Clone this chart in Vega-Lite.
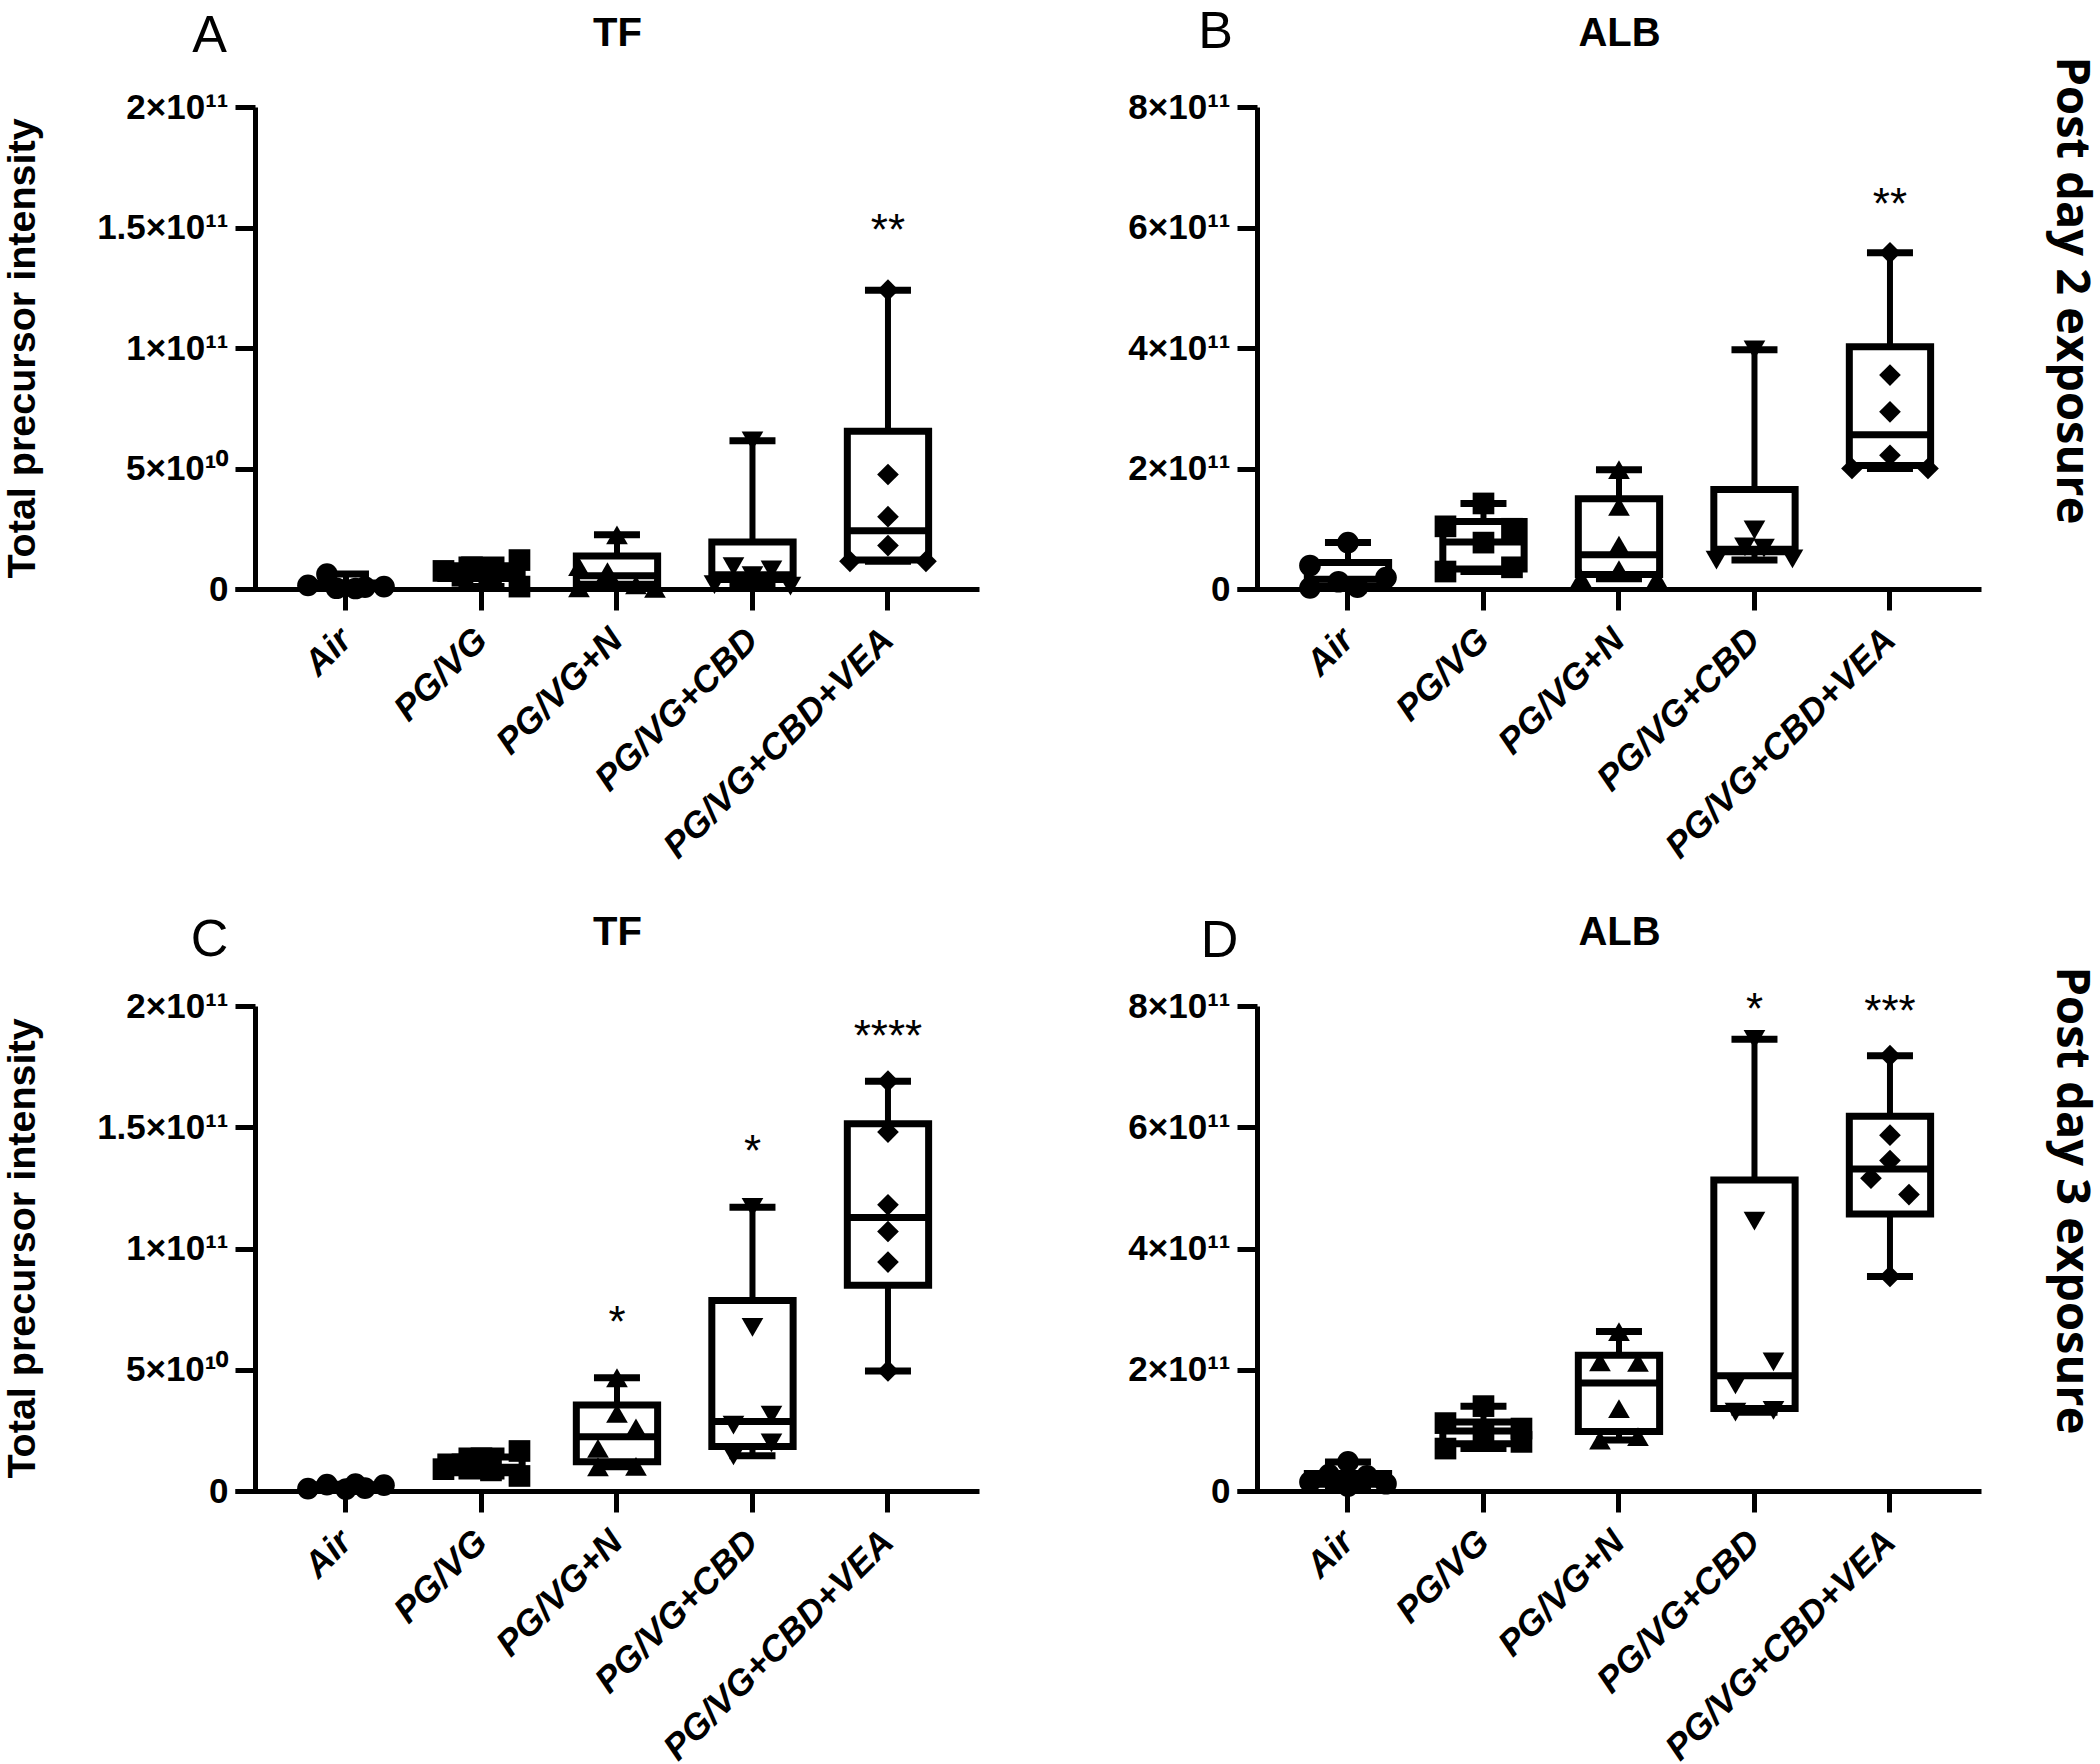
{
"$schema":"https://vega.github.io/schema/vega-lite/v6.json",
"padding":{"left":1,"top":5,"right":0,"bottom":0},
"background":"white",
"config":{"view":{"stroke":null},"font":"Liberation Sans","axis":{"grid":false,"domainColor":"black","tickColor":"black","labelColor":"black","titleColor":"black","labelFont":"Liberation Sans","titleFont":"Liberation Sans"}},
"datasets":{
"boxes":[
{"panel":"A","group":"Air","min":2e8,"q1":3e8,"median":9e8,"q3":2.5e9,"max":6.2e9},
{"panel":"A","group":"PG/VG","min":1e9,"q1":4.4e9,"median":7e9,"q3":9.6e9,"max":1.2e10},
{"panel":"A","group":"PG/VG+N","min":3e8,"q1":2e9,"median":5.5e9,"q3":1.37e10,"max":2.25e10},
{"panel":"A","group":"PG/VG+CBD","min":1.2e9,"q1":3.9e9,"median":5.9e9,"q3":1.95e10,"max":6.15e10},
{"panel":"A","group":"PG/VG+CBD+VEA","min":1.15e10,"q1":1.2e10,"median":2.42e10,"q3":6.55e10,"max":1.24e11},
{"panel":"B","group":"Air","min":2e9,"q1":5e9,"median":1.6e10,"q3":4.4e10,"max":7.7e10},
{"panel":"B","group":"PG/VG","min":2.9e10,"q1":3.3e10,"median":7.8e10,"q3":1.12e11,"max":1.42e11},
{"panel":"B","group":"PG/VG+N","min":1.7e10,"q1":2.4e10,"median":5.7e10,"q3":1.5e11,"max":1.98e11},
{"panel":"B","group":"PG/VG+CBD","min":4.8e10,"q1":6.2e10,"median":6.6e10,"q3":1.65e11,"max":3.97e11},
{"panel":"B","group":"PG/VG+CBD+VEA","min":2e11,"q1":2.05e11,"median":2.56e11,"q3":4.02e11,"max":5.58e11},
{"panel":"C","group":"Air","min":8e8,"q1":1e9,"median":1.8e9,"q3":2.6e9,"max":2.8e9},
{"panel":"C","group":"PG/VG","min":6.2e9,"q1":7.5e9,"median":9.8e9,"q3":1.4e10,"max":1.65e10},
{"panel":"C","group":"PG/VG+N","min":1e10,"q1":1.21e10,"median":2.24e10,"q3":3.55e10,"max":4.67e10},
{"panel":"C","group":"PG/VG+CBD","min":1.45e10,"q1":1.83e10,"median":2.87e10,"q3":7.86e10,"max":1.17e11},
{"panel":"C","group":"PG/VG+CBD+VEA","min":4.95e10,"q1":8.48e10,"median":1.128e11,"q3":1.514e11,"max":1.69e11},
{"panel":"D","group":"Air","min":8e9,"q1":1.1e10,"median":2e10,"q3":2.9e10,"max":4.8e10},
{"panel":"D","group":"PG/VG","min":7e10,"q1":7.8e10,"median":9.9e10,"q3":1.14e11,"max":1.4e11},
{"panel":"D","group":"PG/VG+N","min":8.4e10,"q1":9.8e10,"median":1.78e11,"q3":2.24e11,"max":2.63e11},
{"panel":"D","group":"PG/VG+CBD","min":1.3e11,"q1":1.36e11,"median":1.9e11,"q3":5.13e11,"max":7.45e11},
{"panel":"D","group":"PG/VG+CBD+VEA","min":3.54e11,"q1":4.57e11,"median":5.31e11,"q3":6.18e11,"max":7.18e11}
],
"points":[
{"panel":"A","group":"Air","value":6.2e9,"slot":-2},
{"panel":"A","group":"Air","value":1.5e9,"slot":-4},
{"panel":"A","group":"Air","value":3e8,"slot":-1},
{"panel":"A","group":"Air","value":2e8,"slot":1},
{"panel":"A","group":"Air","value":8e8,"slot":2},
{"panel":"A","group":"Air","value":1e9,"slot":4},
{"panel":"A","group":"PG/VG","value":1.2e10,"slot":4},
{"panel":"A","group":"PG/VG","value":9e9,"slot":-1},
{"panel":"A","group":"PG/VG","value":7.5e9,"slot":-4},
{"panel":"A","group":"PG/VG","value":6.5e9,"slot":1},
{"panel":"A","group":"PG/VG","value":5.5e9,"slot":-2},
{"panel":"A","group":"PG/VG","value":1e9,"slot":4},
{"panel":"A","group":"PG/VG+N","value":2.25e10,"slot":0},
{"panel":"A","group":"PG/VG+N","value":9.3e9,"slot":-4},
{"panel":"A","group":"PG/VG+N","value":7.2e9,"slot":-1},
{"panel":"A","group":"PG/VG+N","value":1.7e9,"slot":2},
{"panel":"A","group":"PG/VG+N","value":5e8,"slot":-4},
{"panel":"A","group":"PG/VG+N","value":3e8,"slot":4},
{"panel":"A","group":"PG/VG+CBD","value":6.15e10,"slot":0},
{"panel":"A","group":"PG/VG+CBD","value":9.3e9,"slot":-2},
{"panel":"A","group":"PG/VG+CBD","value":7.9e9,"slot":2},
{"panel":"A","group":"PG/VG+CBD","value":5.5e9,"slot":0},
{"panel":"A","group":"PG/VG+CBD","value":1.8e9,"slot":-4},
{"panel":"A","group":"PG/VG+CBD","value":1.2e9,"slot":4},
{"panel":"A","group":"PG/VG+CBD+VEA","value":1.24e11,"slot":0},
{"panel":"A","group":"PG/VG+CBD+VEA","value":4.75e10,"slot":0},
{"panel":"A","group":"PG/VG+CBD+VEA","value":3e10,"slot":0},
{"panel":"A","group":"PG/VG+CBD+VEA","value":1.8e10,"slot":0},
{"panel":"A","group":"PG/VG+CBD+VEA","value":1.15e10,"slot":-4},
{"panel":"A","group":"PG/VG+CBD+VEA","value":1.15e10,"slot":4},
{"panel":"B","group":"Air","value":7.7e10,"slot":0},
{"panel":"B","group":"Air","value":3.9e10,"slot":-4},
{"panel":"B","group":"Air","value":1.9e10,"slot":4},
{"panel":"B","group":"Air","value":1.2e10,"slot":-1},
{"panel":"B","group":"Air","value":3e9,"slot":1},
{"panel":"B","group":"Air","value":2e9,"slot":-4},
{"panel":"B","group":"PG/VG","value":1.42e11,"slot":0},
{"panel":"B","group":"PG/VG","value":1.04e11,"slot":-4},
{"panel":"B","group":"PG/VG","value":1e11,"slot":3},
{"panel":"B","group":"PG/VG","value":7.7e10,"slot":0},
{"panel":"B","group":"PG/VG","value":3.6e10,"slot":3},
{"panel":"B","group":"PG/VG","value":2.9e10,"slot":-4},
{"panel":"B","group":"PG/VG+N","value":1.98e11,"slot":0},
{"panel":"B","group":"PG/VG+N","value":1.37e11,"slot":0},
{"panel":"B","group":"PG/VG+N","value":7.3e10,"slot":0},
{"panel":"B","group":"PG/VG+N","value":3.2e10,"slot":0},
{"panel":"B","group":"PG/VG+N","value":1.8e10,"slot":-4},
{"panel":"B","group":"PG/VG+N","value":1.7e10,"slot":4},
{"panel":"B","group":"PG/VG+CBD","value":3.97e11,"slot":0},
{"panel":"B","group":"PG/VG+CBD","value":9.8e10,"slot":0},
{"panel":"B","group":"PG/VG+CBD","value":7e10,"slot":-1},
{"panel":"B","group":"PG/VG+CBD","value":6.8e10,"slot":1},
{"panel":"B","group":"PG/VG+CBD","value":5e10,"slot":4},
{"panel":"B","group":"PG/VG+CBD","value":4.8e10,"slot":-4},
{"panel":"B","group":"PG/VG+CBD+VEA","value":5.58e11,"slot":0},
{"panel":"B","group":"PG/VG+CBD+VEA","value":3.55e11,"slot":0},
{"panel":"B","group":"PG/VG+CBD+VEA","value":2.94e11,"slot":0},
{"panel":"B","group":"PG/VG+CBD+VEA","value":2.22e11,"slot":0},
{"panel":"B","group":"PG/VG+CBD+VEA","value":2e11,"slot":-4},
{"panel":"B","group":"PG/VG+CBD+VEA","value":2e11,"slot":4},
{"panel":"C","group":"Air","value":1e9,"slot":-4},
{"panel":"C","group":"Air","value":2.6e9,"slot":-2},
{"panel":"C","group":"Air","value":8e8,"slot":0},
{"panel":"C","group":"Air","value":2.8e9,"slot":1},
{"panel":"C","group":"Air","value":1.2e9,"slot":2},
{"panel":"C","group":"Air","value":2.4e9,"slot":4},
{"panel":"C","group":"PG/VG","value":1.65e10,"slot":4},
{"panel":"C","group":"PG/VG","value":1.35e10,"slot":0},
{"panel":"C","group":"PG/VG","value":1.1e10,"slot":-2},
{"panel":"C","group":"PG/VG","value":9e9,"slot":-4},
{"panel":"C","group":"PG/VG","value":8.5e9,"slot":1},
{"panel":"C","group":"PG/VG","value":6.2e9,"slot":4},
{"panel":"C","group":"PG/VG+N","value":4.67e10,"slot":0},
{"panel":"C","group":"PG/VG+N","value":3.2e10,"slot":0},
{"panel":"C","group":"PG/VG+N","value":2.6e10,"slot":2},
{"panel":"C","group":"PG/VG+N","value":1.76e10,"slot":-2},
{"panel":"C","group":"PG/VG+N","value":1e10,"slot":-2},
{"panel":"C","group":"PG/VG+N","value":1.02e10,"slot":2},
{"panel":"C","group":"PG/VG+CBD","value":1.17e11,"slot":0},
{"panel":"C","group":"PG/VG+CBD","value":6.75e10,"slot":0},
{"panel":"C","group":"PG/VG+CBD","value":3.13e10,"slot":2},
{"panel":"C","group":"PG/VG+CBD","value":2.72e10,"slot":-2},
{"panel":"C","group":"PG/VG+CBD","value":1.98e10,"slot":2},
{"panel":"C","group":"PG/VG+CBD","value":1.45e10,"slot":-2},
{"panel":"C","group":"PG/VG+CBD+VEA","value":1.69e11,"slot":0},
{"panel":"C","group":"PG/VG+CBD+VEA","value":1.48e11,"slot":0},
{"panel":"C","group":"PG/VG+CBD+VEA","value":1.18e11,"slot":0},
{"panel":"C","group":"PG/VG+CBD+VEA","value":1.07e11,"slot":0},
{"panel":"C","group":"PG/VG+CBD+VEA","value":9.44e10,"slot":0},
{"panel":"C","group":"PG/VG+CBD+VEA","value":4.95e10,"slot":0},
{"panel":"D","group":"Air","value":4.8e10,"slot":0},
{"panel":"D","group":"Air","value":2.7e10,"slot":-2},
{"panel":"D","group":"Air","value":2.5e10,"slot":2},
{"panel":"D","group":"Air","value":1.5e10,"slot":-4},
{"panel":"D","group":"Air","value":8e9,"slot":0},
{"panel":"D","group":"Air","value":1.2e10,"slot":4},
{"panel":"D","group":"PG/VG","value":1.4e11,"slot":0},
{"panel":"D","group":"PG/VG","value":1.12e11,"slot":-4},
{"panel":"D","group":"PG/VG","value":1.03e11,"slot":4},
{"panel":"D","group":"PG/VG","value":9.5e10,"slot":0},
{"panel":"D","group":"PG/VG","value":8.1e10,"slot":4},
{"panel":"D","group":"PG/VG","value":7e10,"slot":-4},
{"panel":"D","group":"PG/VG+N","value":2.63e11,"slot":0},
{"panel":"D","group":"PG/VG+N","value":2.13e11,"slot":-2},
{"panel":"D","group":"PG/VG+N","value":2.12e11,"slot":2},
{"panel":"D","group":"PG/VG+N","value":1.36e11,"slot":0},
{"panel":"D","group":"PG/VG+N","value":8.96e10,"slot":2},
{"panel":"D","group":"PG/VG+N","value":8.4e10,"slot":-2},
{"panel":"D","group":"PG/VG+CBD","value":7.45e11,"slot":0},
{"panel":"D","group":"PG/VG+CBD","value":4.45e11,"slot":0},
{"panel":"D","group":"PG/VG+CBD","value":2.13e11,"slot":2},
{"panel":"D","group":"PG/VG+CBD","value":1.75e11,"slot":-2},
{"panel":"D","group":"PG/VG+CBD","value":1.33e11,"slot":2},
{"panel":"D","group":"PG/VG+CBD","value":1.3e11,"slot":-2},
{"panel":"D","group":"PG/VG+CBD+VEA","value":7.18e11,"slot":0},
{"panel":"D","group":"PG/VG+CBD+VEA","value":5.87e11,"slot":0},
{"panel":"D","group":"PG/VG+CBD+VEA","value":5.45e11,"slot":0},
{"panel":"D","group":"PG/VG+CBD+VEA","value":5.16e11,"slot":-2},
{"panel":"D","group":"PG/VG+CBD+VEA","value":4.89e11,"slot":2},
{"panel":"D","group":"PG/VG+CBD+VEA","value":3.54e11,"slot":0}
],
"stars":[
{"panel":"A","group":"PG/VG+CBD+VEA","y":1.523e11,"label":"**"},
{"panel":"B","group":"PG/VG+CBD+VEA","y":6.52e11,"label":"**"},
{"panel":"C","group":"PG/VG+N","y":7.3e10,"label":"*"},
{"panel":"C","group":"PG/VG+CBD","y":1.437e11,"label":"*"},
{"panel":"C","group":"PG/VG+CBD+VEA","y":1.908e11,"label":"****"},
{"panel":"D","group":"PG/VG+CBD","y":8.08e11,"label":"*"},
{"panel":"D","group":"PG/VG+CBD+VEA","y":8.05e11,"label":"***"}
]
},
"columns":2,
"align":"each",
"spacing":{"row":47,"column":148},
"concat":[
{"width":744,"height":482,
"layer":[
{"data":{"name":"boxes"},"transform":[{"filter":"datum.panel==='A'"}],"mark":{"type":"rule","color":"black","strokeWidth":6},
"encoding":{"x":{"field":"group","type":"nominal","sort":["Air","PG/VG","PG/VG+N","PG/VG+CBD","PG/VG+CBD+VEA"],"scale":{"type":"band","paddingInner":0,"paddingOuter":0.2454,"align":0.65},"axis":{"orient":"bottom","title":null,"labelAngle":-45,"labelAlign":"right","labelBaseline":"middle","labelFontStyle":"italic","labelFontWeight":"bold","labelFontSize":36,"labelPadding":24,"labelLimit":0,"labelOverlap":false,"tickSize":21,"tickWidth":5,"domainWidth":5}},
"y":{"field":"min","type":"quantitative","scale":{"domain":[0,200000000000],"nice":false},"axis":{"orient":"left","offset":-20,"values":[0,50000000000,100000000000,150000000000,200000000000],"labelExpr":"datum.value === 0 ? '0' : datum.value === 50000000000 ? '5×10¹⁰' : datum.value === 100000000000 ? '1×10¹¹' : datum.value === 150000000000 ? '1.5×10¹¹' : '2×10¹¹'","labelFontSize":35,"labelFontWeight":"bold","labelPadding":7,"labelOverlap":false,"tickSize":20,"tickWidth":5,"domainWidth":5,"title":"Total precursor intensity","titleFontSize":39.5,"titleFontWeight":"bold","titleAngle":-90,"titleX":-233,"titleY":241,"titleAlign":"center","titleBaseline":"middle"}},
"y2":{"field":"max"}}},
{"data":{"name":"boxes"},"transform":[{"filter":"datum.panel==='A'"}],"mark":{"type":"bar","fill":"white","stroke":"black","strokeWidth":7,"width":{"band":0.6}},
"encoding":{"x":{"field":"group","type":"nominal","sort":["Air","PG/VG","PG/VG+N","PG/VG+CBD","PG/VG+CBD+VEA"],"scale":{"type":"band","paddingInner":0,"paddingOuter":0.2454,"align":0.65},"axis":{"orient":"top","labels":false,"ticks":false,"domain":false,"title":"TF","titleFontSize":40,"titleFontWeight":"bold","titleX":382,"titleY":-62,"titleAlign":"center","titleBaseline":"alphabetic","titleAngle":0}},
"y":{"field":"q1","type":"quantitative","axis":null},"y2":{"field":"q3"}}},
{"data":{"name":"boxes"},"transform":[{"filter":"datum.panel==='A'"}],"mark":{"type":"tick","color":"black","thickness":7,"size":82,"opacity":1},
"encoding":{"x":{"field":"group","type":"nominal","sort":["Air","PG/VG","PG/VG+N","PG/VG+CBD","PG/VG+CBD+VEA"],"axis":null},"y":{"field":"median","type":"quantitative","axis":null}}},
{"data":{"name":"boxes"},"transform":[{"filter":"datum.panel==='A'"}],"mark":{"type":"tick","color":"black","thickness":7,"size":46,"opacity":1},
"encoding":{"x":{"field":"group","type":"nominal","sort":["Air","PG/VG","PG/VG+N","PG/VG+CBD","PG/VG+CBD+VEA"],"axis":null},"y":{"field":"min","type":"quantitative","axis":null}}},
{"data":{"name":"boxes"},"transform":[{"filter":"datum.panel==='A'"}],"mark":{"type":"tick","color":"black","thickness":7,"size":46,"opacity":1},
"encoding":{"x":{"field":"group","type":"nominal","sort":["Air","PG/VG","PG/VG+N","PG/VG+CBD","PG/VG+CBD+VEA"],"axis":null},"y":{"field":"max","type":"quantitative","axis":null}}},
{"data":{"name":"points"},"transform":[{"filter":"datum.panel==='A'"}],"mark":{"type":"point","filled":true,"opacity":1,"size":470,"color":"black"},
"encoding":{"x":{"field":"group","type":"nominal","sort":["Air","PG/VG","PG/VG+N","PG/VG+CBD","PG/VG+CBD+VEA"],"axis":{"orient":"top","labels":false,"ticks":false,"domain":false,"title":"A","titleFontSize":52,"titleFontWeight":"normal","titleX":-26,"titleY":-56,"titleAlign":"center","titleBaseline":"alphabetic","titleAngle":0}},
"xOffset":{"field":"slot","type":"ordinal","scale":{"type":"point","domain":[-4,-3,-2,-1,0,1,2,3,4],"range":[29.75,105.75],"padding":0}},
"y":{"field":"value","type":"quantitative","axis":null},
"shape":{"field":"group","type":"nominal","scale":{"domain":["Air","PG/VG","PG/VG+N","PG/VG+CBD","PG/VG+CBD+VEA"],"range":["circle","square","triangle-up","triangle-down","diamond"]},"legend":null}}},
{"data":{"name":"stars"},"transform":[{"filter":"datum.panel==='A'"}],"mark":{"type":"text","fontSize":44,"baseline":"alphabetic","dy":23,"color":"black"},
"encoding":{"x":{"field":"group","type":"nominal","sort":["Air","PG/VG","PG/VG+N","PG/VG+CBD","PG/VG+CBD+VEA"],"axis":null},"y":{"field":"y","type":"quantitative","axis":null},"text":{"field":"label"}}}
],
"resolve":{"scale":{"xOffset":"independent"},"axis":{"x":"independent","y":"independent"}}},

{"width":744,"height":482,
"layer":[
{"data":{"name":"boxes"},"transform":[{"filter":"datum.panel==='B'"}],"mark":{"type":"rule","color":"black","strokeWidth":6},
"encoding":{"x":{"field":"group","type":"nominal","sort":["Air","PG/VG","PG/VG+N","PG/VG+CBD","PG/VG+CBD+VEA"],"scale":{"type":"band","paddingInner":0,"paddingOuter":0.2454,"align":0.65},"axis":{"orient":"bottom","title":null,"labelAngle":-45,"labelAlign":"right","labelBaseline":"middle","labelFontStyle":"italic","labelFontWeight":"bold","labelFontSize":36,"labelPadding":24,"labelLimit":0,"labelOverlap":false,"tickSize":21,"tickWidth":5,"domainWidth":5}},
"y":{"field":"min","type":"quantitative","scale":{"domain":[0,800000000000],"nice":false},"axis":{"orient":"left","offset":-20,"values":[0,200000000000,400000000000,600000000000,800000000000],"labelExpr":"datum.value === 0 ? '0' : datum.value === 200000000000 ? '2×10¹¹' : datum.value === 400000000000 ? '4×10¹¹' : datum.value === 600000000000 ? '6×10¹¹' : '8×10¹¹'","labelFontSize":35,"labelFontWeight":"bold","labelPadding":7,"labelOverlap":false,"tickSize":20,"tickWidth":5,"domainWidth":5,"title":null}},
"y2":{"field":"max"}}},
{"data":{"name":"boxes"},"transform":[{"filter":"datum.panel==='B'"}],"mark":{"type":"bar","fill":"white","stroke":"black","strokeWidth":7,"width":{"band":0.6}},
"encoding":{"x":{"field":"group","type":"nominal","sort":["Air","PG/VG","PG/VG+N","PG/VG+CBD","PG/VG+CBD+VEA"],"scale":{"type":"band","paddingInner":0,"paddingOuter":0.2454,"align":0.65},"axis":{"orient":"top","labels":false,"ticks":false,"domain":false,"title":"ALB","titleFontSize":40,"titleFontWeight":"bold","titleX":382,"titleY":-62,"titleAlign":"center","titleBaseline":"alphabetic","titleAngle":0}},
"y":{"field":"q1","type":"quantitative","axis":{"orient":"right","labels":false,"ticks":false,"domain":false,"title":"Post day 2 exposure","titleFont":"Open Sans","titleFontSize":47,"titleFontWeight":"bold","titleAngle":90,"titleX":89,"titleY":183,"titleAlign":"center","titleBaseline":"middle"}},"y2":{"field":"q3"}}},
{"data":{"name":"boxes"},"transform":[{"filter":"datum.panel==='B'"}],"mark":{"type":"tick","color":"black","thickness":7,"size":82,"opacity":1},
"encoding":{"x":{"field":"group","type":"nominal","sort":["Air","PG/VG","PG/VG+N","PG/VG+CBD","PG/VG+CBD+VEA"],"axis":null},"y":{"field":"median","type":"quantitative","axis":null}}},
{"data":{"name":"boxes"},"transform":[{"filter":"datum.panel==='B'"}],"mark":{"type":"tick","color":"black","thickness":7,"size":46,"opacity":1},
"encoding":{"x":{"field":"group","type":"nominal","sort":["Air","PG/VG","PG/VG+N","PG/VG+CBD","PG/VG+CBD+VEA"],"axis":null},"y":{"field":"min","type":"quantitative","axis":null}}},
{"data":{"name":"boxes"},"transform":[{"filter":"datum.panel==='B'"}],"mark":{"type":"tick","color":"black","thickness":7,"size":46,"opacity":1},
"encoding":{"x":{"field":"group","type":"nominal","sort":["Air","PG/VG","PG/VG+N","PG/VG+CBD","PG/VG+CBD+VEA"],"axis":null},"y":{"field":"max","type":"quantitative","axis":null}}},
{"data":{"name":"points"},"transform":[{"filter":"datum.panel==='B'"}],"mark":{"type":"point","filled":true,"opacity":1,"size":470,"color":"black"},
"encoding":{"x":{"field":"group","type":"nominal","sort":["Air","PG/VG","PG/VG+N","PG/VG+CBD","PG/VG+CBD+VEA"],"axis":{"orient":"top","labels":false,"ticks":false,"domain":false,"title":"B","titleFontSize":52,"titleFontWeight":"normal","titleX":-22,"titleY":-60,"titleAlign":"center","titleBaseline":"alphabetic","titleAngle":0}},
"xOffset":{"field":"slot","type":"ordinal","scale":{"type":"point","domain":[-4,-3,-2,-1,0,1,2,3,4],"range":[29.75,105.75],"padding":0}},
"y":{"field":"value","type":"quantitative","axis":null},
"shape":{"field":"group","type":"nominal","scale":{"domain":["Air","PG/VG","PG/VG+N","PG/VG+CBD","PG/VG+CBD+VEA"],"range":["circle","square","triangle-up","triangle-down","diamond"]},"legend":null}}},
{"data":{"name":"stars"},"transform":[{"filter":"datum.panel==='B'"}],"mark":{"type":"text","fontSize":44,"baseline":"alphabetic","dy":23,"color":"black"},
"encoding":{"x":{"field":"group","type":"nominal","sort":["Air","PG/VG","PG/VG+N","PG/VG+CBD","PG/VG+CBD+VEA"],"axis":null},"y":{"field":"y","type":"quantitative","axis":null},"text":{"field":"label"}}}
],
"resolve":{"scale":{"xOffset":"independent"},"axis":{"x":"independent","y":"independent"}}},

{"width":744,"height":485,
"layer":[
{"data":{"name":"boxes"},"transform":[{"filter":"datum.panel==='C'"}],"mark":{"type":"rule","color":"black","strokeWidth":6},
"encoding":{"x":{"field":"group","type":"nominal","sort":["Air","PG/VG","PG/VG+N","PG/VG+CBD","PG/VG+CBD+VEA"],"scale":{"type":"band","paddingInner":0,"paddingOuter":0.2454,"align":0.65},"axis":{"orient":"bottom","title":null,"labelAngle":-45,"labelAlign":"right","labelBaseline":"middle","labelFontStyle":"italic","labelFontWeight":"bold","labelFontSize":36,"labelPadding":24,"labelLimit":0,"labelOverlap":false,"tickSize":21,"tickWidth":5,"domainWidth":5}},
"y":{"field":"min","type":"quantitative","scale":{"domain":[0,200000000000],"nice":false},"axis":{"orient":"left","offset":-20,"values":[0,50000000000,100000000000,150000000000,200000000000],"labelExpr":"datum.value === 0 ? '0' : datum.value === 50000000000 ? '5×10¹⁰' : datum.value === 100000000000 ? '1×10¹¹' : datum.value === 150000000000 ? '1.5×10¹¹' : '2×10¹¹'","labelFontSize":35,"labelFontWeight":"bold","labelPadding":7,"labelOverlap":false,"tickSize":20,"tickWidth":5,"domainWidth":5,"title":"Total precursor intensity","titleFontSize":39.5,"titleFontWeight":"bold","titleAngle":-90,"titleX":-233,"titleY":242,"titleAlign":"center","titleBaseline":"middle"}},
"y2":{"field":"max"}}},
{"data":{"name":"boxes"},"transform":[{"filter":"datum.panel==='C'"}],"mark":{"type":"bar","fill":"white","stroke":"black","strokeWidth":7,"width":{"band":0.6}},
"encoding":{"x":{"field":"group","type":"nominal","sort":["Air","PG/VG","PG/VG+N","PG/VG+CBD","PG/VG+CBD+VEA"],"scale":{"type":"band","paddingInner":0,"paddingOuter":0.2454,"align":0.65},"axis":{"orient":"top","labels":false,"ticks":false,"domain":false,"title":"TF","titleFontSize":40,"titleFontWeight":"bold","titleX":382,"titleY":-62,"titleAlign":"center","titleBaseline":"alphabetic","titleAngle":0}},
"y":{"field":"q1","type":"quantitative","axis":null},"y2":{"field":"q3"}}},
{"data":{"name":"boxes"},"transform":[{"filter":"datum.panel==='C'"}],"mark":{"type":"tick","color":"black","thickness":7,"size":82,"opacity":1},
"encoding":{"x":{"field":"group","type":"nominal","sort":["Air","PG/VG","PG/VG+N","PG/VG+CBD","PG/VG+CBD+VEA"],"axis":null},"y":{"field":"median","type":"quantitative","axis":null}}},
{"data":{"name":"boxes"},"transform":[{"filter":"datum.panel==='C'"}],"mark":{"type":"tick","color":"black","thickness":7,"size":46,"opacity":1},
"encoding":{"x":{"field":"group","type":"nominal","sort":["Air","PG/VG","PG/VG+N","PG/VG+CBD","PG/VG+CBD+VEA"],"axis":null},"y":{"field":"min","type":"quantitative","axis":null}}},
{"data":{"name":"boxes"},"transform":[{"filter":"datum.panel==='C'"}],"mark":{"type":"tick","color":"black","thickness":7,"size":46,"opacity":1},
"encoding":{"x":{"field":"group","type":"nominal","sort":["Air","PG/VG","PG/VG+N","PG/VG+CBD","PG/VG+CBD+VEA"],"axis":null},"y":{"field":"max","type":"quantitative","axis":null}}},
{"data":{"name":"points"},"transform":[{"filter":"datum.panel==='C'"}],"mark":{"type":"point","filled":true,"opacity":1,"size":470,"color":"black"},
"encoding":{"x":{"field":"group","type":"nominal","sort":["Air","PG/VG","PG/VG+N","PG/VG+CBD","PG/VG+CBD+VEA"],"axis":{"orient":"top","labels":false,"ticks":false,"domain":false,"title":"C","titleFontSize":52,"titleFontWeight":"normal","titleX":-26,"titleY":-51,"titleAlign":"center","titleBaseline":"alphabetic","titleAngle":0}},
"xOffset":{"field":"slot","type":"ordinal","scale":{"type":"point","domain":[-4,-3,-2,-1,0,1,2,3,4],"range":[29.75,105.75],"padding":0}},
"y":{"field":"value","type":"quantitative","axis":null},
"shape":{"field":"group","type":"nominal","scale":{"domain":["Air","PG/VG","PG/VG+N","PG/VG+CBD","PG/VG+CBD+VEA"],"range":["circle","square","triangle-up","triangle-down","diamond"]},"legend":null}}},
{"data":{"name":"stars"},"transform":[{"filter":"datum.panel==='C'"}],"mark":{"type":"text","fontSize":44,"baseline":"alphabetic","dy":23,"color":"black"},
"encoding":{"x":{"field":"group","type":"nominal","sort":["Air","PG/VG","PG/VG+N","PG/VG+CBD","PG/VG+CBD+VEA"],"axis":null},"y":{"field":"y","type":"quantitative","axis":null},"text":{"field":"label"}}}
],
"resolve":{"scale":{"xOffset":"independent"},"axis":{"x":"independent","y":"independent"}}},

{"width":744,"height":485,
"layer":[
{"data":{"name":"boxes"},"transform":[{"filter":"datum.panel==='D'"}],"mark":{"type":"rule","color":"black","strokeWidth":6},
"encoding":{"x":{"field":"group","type":"nominal","sort":["Air","PG/VG","PG/VG+N","PG/VG+CBD","PG/VG+CBD+VEA"],"scale":{"type":"band","paddingInner":0,"paddingOuter":0.2454,"align":0.65},"axis":{"orient":"bottom","title":null,"labelAngle":-45,"labelAlign":"right","labelBaseline":"middle","labelFontStyle":"italic","labelFontWeight":"bold","labelFontSize":36,"labelPadding":24,"labelLimit":0,"labelOverlap":false,"tickSize":21,"tickWidth":5,"domainWidth":5}},
"y":{"field":"min","type":"quantitative","scale":{"domain":[0,800000000000],"nice":false},"axis":{"orient":"left","offset":-20,"values":[0,200000000000,400000000000,600000000000,800000000000],"labelExpr":"datum.value === 0 ? '0' : datum.value === 200000000000 ? '2×10¹¹' : datum.value === 400000000000 ? '4×10¹¹' : datum.value === 600000000000 ? '6×10¹¹' : '8×10¹¹'","labelFontSize":35,"labelFontWeight":"bold","labelPadding":7,"labelOverlap":false,"tickSize":20,"tickWidth":5,"domainWidth":5,"title":null}},
"y2":{"field":"max"}}},
{"data":{"name":"boxes"},"transform":[{"filter":"datum.panel==='D'"}],"mark":{"type":"bar","fill":"white","stroke":"black","strokeWidth":7,"width":{"band":0.6}},
"encoding":{"x":{"field":"group","type":"nominal","sort":["Air","PG/VG","PG/VG+N","PG/VG+CBD","PG/VG+CBD+VEA"],"scale":{"type":"band","paddingInner":0,"paddingOuter":0.2454,"align":0.65},"axis":{"orient":"top","labels":false,"ticks":false,"domain":false,"title":"ALB","titleFontSize":40,"titleFontWeight":"bold","titleX":382,"titleY":-62,"titleAlign":"center","titleBaseline":"alphabetic","titleAngle":0}},
"y":{"field":"q1","type":"quantitative","axis":{"orient":"right","labels":false,"ticks":false,"domain":false,"title":"Post day 3 exposure","titleFont":"Open Sans","titleFontSize":47,"titleFontWeight":"bold","titleAngle":90,"titleX":89,"titleY":194,"titleAlign":"center","titleBaseline":"middle"}},"y2":{"field":"q3"}}},
{"data":{"name":"boxes"},"transform":[{"filter":"datum.panel==='D'"}],"mark":{"type":"tick","color":"black","thickness":7,"size":82,"opacity":1},
"encoding":{"x":{"field":"group","type":"nominal","sort":["Air","PG/VG","PG/VG+N","PG/VG+CBD","PG/VG+CBD+VEA"],"axis":null},"y":{"field":"median","type":"quantitative","axis":null}}},
{"data":{"name":"boxes"},"transform":[{"filter":"datum.panel==='D'"}],"mark":{"type":"tick","color":"black","thickness":7,"size":46,"opacity":1},
"encoding":{"x":{"field":"group","type":"nominal","sort":["Air","PG/VG","PG/VG+N","PG/VG+CBD","PG/VG+CBD+VEA"],"axis":null},"y":{"field":"min","type":"quantitative","axis":null}}},
{"data":{"name":"boxes"},"transform":[{"filter":"datum.panel==='D'"}],"mark":{"type":"tick","color":"black","thickness":7,"size":46,"opacity":1},
"encoding":{"x":{"field":"group","type":"nominal","sort":["Air","PG/VG","PG/VG+N","PG/VG+CBD","PG/VG+CBD+VEA"],"axis":null},"y":{"field":"max","type":"quantitative","axis":null}}},
{"data":{"name":"points"},"transform":[{"filter":"datum.panel==='D'"}],"mark":{"type":"point","filled":true,"opacity":1,"size":470,"color":"black"},
"encoding":{"x":{"field":"group","type":"nominal","sort":["Air","PG/VG","PG/VG+N","PG/VG+CBD","PG/VG+CBD+VEA"],"axis":{"orient":"top","labels":false,"ticks":false,"domain":false,"title":"D","titleFontSize":52,"titleFontWeight":"normal","titleX":-18,"titleY":-50,"titleAlign":"center","titleBaseline":"alphabetic","titleAngle":0}},
"xOffset":{"field":"slot","type":"ordinal","scale":{"type":"point","domain":[-4,-3,-2,-1,0,1,2,3,4],"range":[29.75,105.75],"padding":0}},
"y":{"field":"value","type":"quantitative","axis":null},
"shape":{"field":"group","type":"nominal","scale":{"domain":["Air","PG/VG","PG/VG+N","PG/VG+CBD","PG/VG+CBD+VEA"],"range":["circle","square","triangle-up","triangle-down","diamond"]},"legend":null}}},
{"data":{"name":"stars"},"transform":[{"filter":"datum.panel==='D'"}],"mark":{"type":"text","fontSize":44,"baseline":"alphabetic","dy":23,"color":"black"},
"encoding":{"x":{"field":"group","type":"nominal","sort":["Air","PG/VG","PG/VG+N","PG/VG+CBD","PG/VG+CBD+VEA"],"axis":null},"y":{"field":"y","type":"quantitative","axis":null},"text":{"field":"label"}}}
],
"resolve":{"scale":{"xOffset":"independent"},"axis":{"x":"independent","y":"independent"}}}
]
}
